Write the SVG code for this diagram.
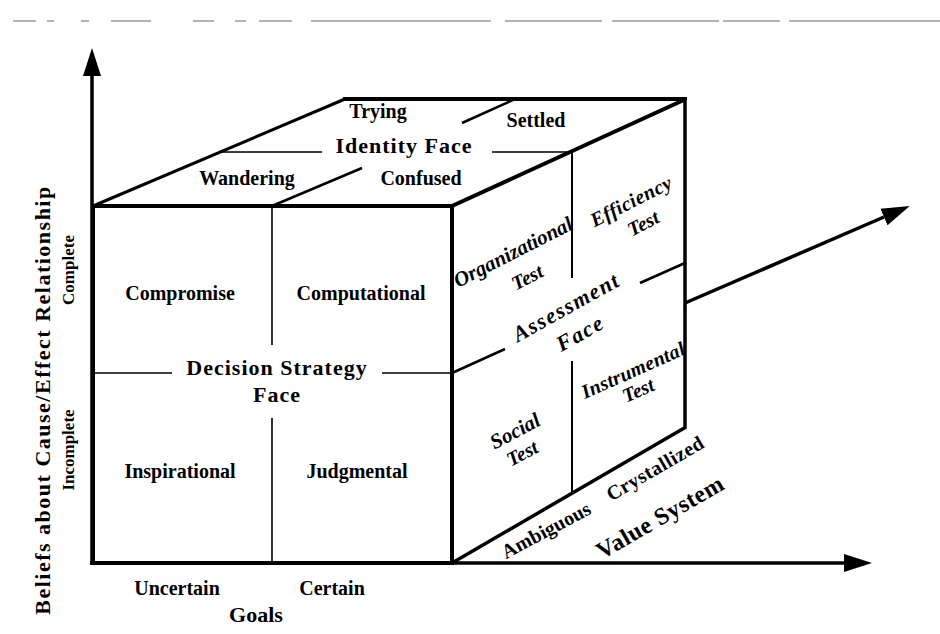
<svg xmlns="http://www.w3.org/2000/svg" width="940" height="634" viewBox="0 0 940 634">
<defs>
<marker id="ah" viewBox="0 0 28 20" refX="0" refY="10" markerWidth="28" markerHeight="20" markerUnits="userSpaceOnUse" orient="auto">
<path d="M0,1 L28,10 L0,19 z" fill="#000"/>
</marker>
<style>
.t{font-family:"Liberation Serif","Times New Roman",serif;font-weight:bold;fill:#000;}
.i{font-family:"Liberation Serif","Times New Roman",serif;font-weight:bold;font-style:italic;fill:#000;}
.thick{stroke:#000;stroke-width:4;fill:none;stroke-linecap:square;}
.med{stroke:#000;stroke-width:2.5;fill:none;}
.thin{stroke:#000;stroke-width:1.6;fill:none;}
.hdr{stroke:#666;stroke-width:1;}
</style>
</defs>
<rect width="940" height="634" fill="#fff"/>
<g id="header">
<path class="hdr" d="M13,21H36M47,21H54M81,21H89M111,21H151M193,21H214M235,21H246M259,21H292M311,21H491M505,21H602M612,21H719M723,21H780M789,21H940"/>
</g>
<g id="connectors">
<line x1="92" y1="565" x2="92" y2="76" stroke="#000" stroke-width="3.5" marker-end="url(#ah)"/>
<line x1="90" y1="563" x2="844" y2="563" stroke="#000" stroke-width="3.5" marker-end="url(#ah)"/>
<line x1="685" y1="303" x2="884" y2="217" stroke="#000" stroke-width="3.5" marker-end="url(#ah)"/>
</g>
<g id="decision-strategy-face">
<rect x="93" y="206" width="359" height="357" class="thick"/>
<path class="thin" d="M272,206V345M272,418V563M93,373H172M382,373H452"/>
<text class="t" x="180" y="300" font-size="20" text-anchor="middle">Compromise</text>
<text class="t" x="361" y="300" font-size="20" text-anchor="middle">Computational</text>
<text class="t" x="277" y="375" font-size="22" letter-spacing="1" text-anchor="middle">Decision Strategy</text>
<text class="t" x="277" y="402" font-size="22" letter-spacing="1" text-anchor="middle">Face</text>
<text class="t" x="180" y="478" font-size="20" text-anchor="middle">Inspirational</text>
<text class="t" x="357" y="478" font-size="20" text-anchor="middle">Judgmental</text>
</g>
<g id="identity-face">
<line x1="93" y1="206" x2="345" y2="99" stroke="#000" stroke-width="3"/>
<line x1="343" y1="99" x2="687" y2="99" stroke="#000" stroke-width="4"/>
<line x1="452" y1="206" x2="686" y2="99" stroke="#000" stroke-width="4"/>
<path class="thin" d="M220,152H322M492,152H571"/>
<path class="med" d="M272,206L362,168M462,123L515,99"/>
<text class="t" x="378" y="118" font-size="20" text-anchor="middle">Trying</text>
<text class="t" x="536" y="127" font-size="20" text-anchor="middle">Settled</text>
<text class="t" x="404" y="153" font-size="22" letter-spacing="1" text-anchor="middle">Identity Face</text>
<text class="t" x="247" y="185" font-size="20" text-anchor="middle">Wandering</text>
<text class="t" x="421" y="185" font-size="20" text-anchor="middle">Confused</text>
</g>
<g id="assessment-face">
<line x1="685" y1="99" x2="685" y2="428" stroke="#000" stroke-width="3.5"/>
<line x1="452" y1="563" x2="686" y2="427" stroke="#000" stroke-width="3.5"/>
<path d="M572,152V278M572,361V494" stroke="#000" stroke-width="2" fill="none"/>
<path class="med" d="M452,373L505,349M640,283L685,263"/>
<g transform="translate(513,252) rotate(-27)"><text class="i" font-size="21" text-anchor="middle" dominant-baseline="central">Organizational</text></g>
<g transform="translate(527,277) rotate(-27)"><text class="i" font-size="20" text-anchor="middle" dominant-baseline="central">Test</text></g>
<g transform="translate(631,201) rotate(-27)"><text class="i" font-size="20" letter-spacing="0.5" text-anchor="middle" dominant-baseline="central">Efficiency</text></g>
<g transform="translate(643,223) rotate(-27)"><text class="i" font-size="20" text-anchor="middle" dominant-baseline="central">Test</text></g>
<g transform="translate(566,307) rotate(-29)"><text class="i" font-size="22" letter-spacing="1.5" text-anchor="middle" dominant-baseline="central">Assessment</text></g>
<g transform="translate(580,333) rotate(-29)"><text class="i" font-size="22" letter-spacing="1.5" text-anchor="middle" dominant-baseline="central">Face</text></g>
<g transform="translate(633,370) rotate(-24)"><text class="i" font-size="20" letter-spacing="0.3" text-anchor="middle" dominant-baseline="central">Instrumental</text></g>
<g transform="translate(638,390) rotate(-24)"><text class="i" font-size="20" text-anchor="middle" dominant-baseline="central">Test</text></g>
<g transform="translate(515,431) rotate(-28)"><text class="i" font-size="21" text-anchor="middle" dominant-baseline="central">Social</text></g>
<g transform="translate(522,453) rotate(-28)"><text class="i" font-size="20" text-anchor="middle" dominant-baseline="central">Test</text></g>
</g>
<g id="value-system-axis">
<g transform="translate(546,530) rotate(-28)"><text class="t" font-size="20" text-anchor="middle" dominant-baseline="central">Ambiguous</text></g>
<g transform="translate(655,468) rotate(-30)"><text class="t" font-size="20" letter-spacing="0.5" text-anchor="middle" dominant-baseline="central">Crystallized</text></g>
<g transform="translate(660,517) rotate(-30)"><text class="t" font-size="24" letter-spacing="0.5" text-anchor="middle" dominant-baseline="central">Value System</text></g>
</g>
<g id="goals-axis">
<text class="t" x="177" y="595" font-size="20" text-anchor="middle">Uncertain</text>
<text class="t" x="332" y="595" font-size="20" text-anchor="middle">Certain</text>
<text class="t" x="256" y="622" font-size="22" text-anchor="middle">Goals</text>
</g>
<g id="beliefs-axis">
<text class="t" transform="translate(50,400) rotate(-90)" font-size="22" letter-spacing="1.5" text-anchor="middle">Beliefs about Cause/Effect Relationship</text>
<text class="t" transform="translate(74,270) rotate(-90)" font-size="17" text-anchor="middle">Complete</text>
<text class="t" transform="translate(74,450) rotate(-90)" font-size="17" text-anchor="middle">Incomplete</text>
</g>
</svg>
